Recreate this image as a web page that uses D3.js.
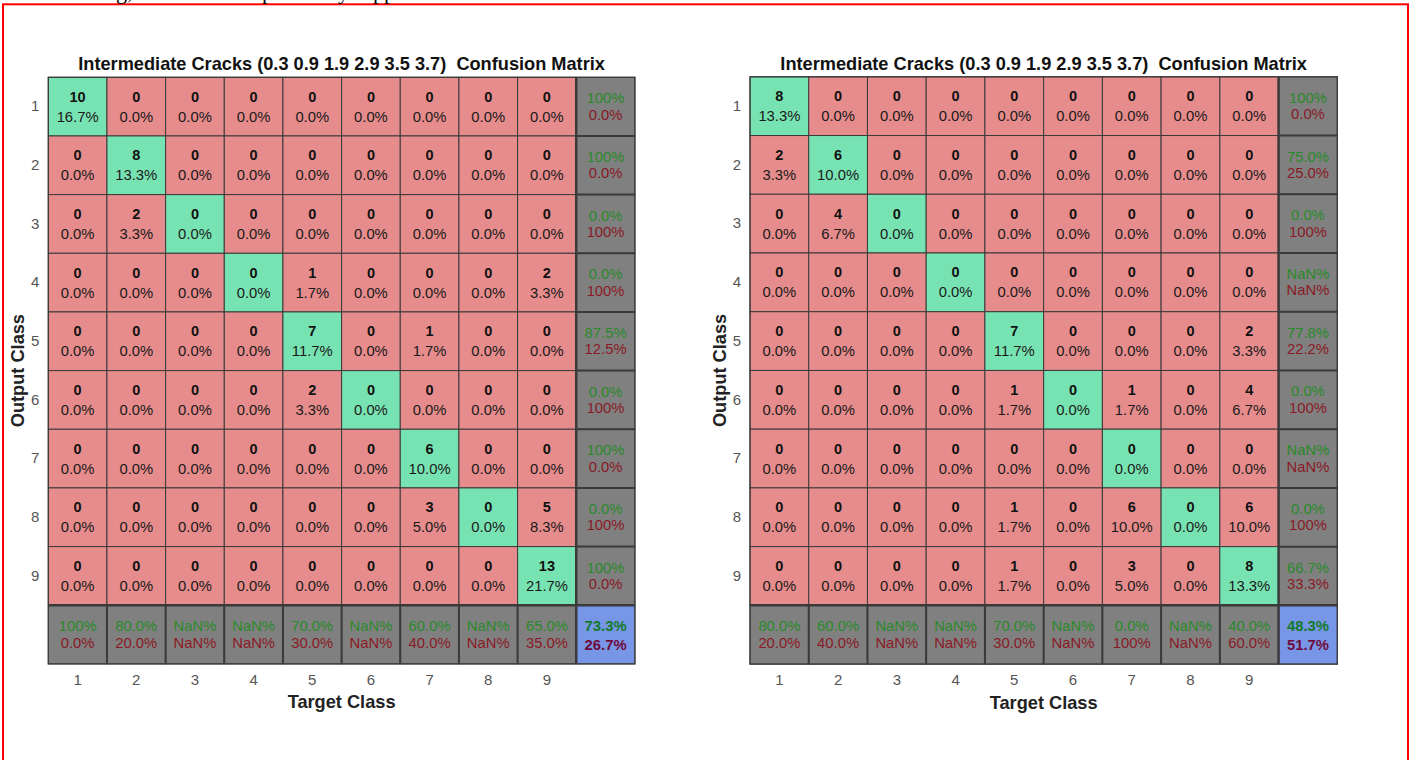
<!DOCTYPE html>
<html>
<head>
<meta charset="utf-8">
<script src="https://cdn.jsdelivr.net/npm/d3@7"></script>
<style>
  html, body { margin: 0; padding: 0; background: #fff; }
  svg { display: block; }
  text { font-family: "Liberation Sans", Arial, Helvetica, sans-serif; }
</style>
</head>
<body>
<svg id="chart" width="1413" height="760"></svg>
<script>
// ---------------- data ----------------
const classes = ["1", "2", "3", "4", "5", "6", "7", "8", "9"];
const titleText = "Intermediate Cracks (0.3 0.9 1.9 2.9 3.5 3.7)  Confusion Matrix";
const xAxisLabel = "Target Class";
const yAxisLabel = "Output Class";

// rows = output class, columns = target class
const leftCounts = [
  [10, 0, 0, 0, 0, 0, 0, 0, 0],
  [0, 8, 0, 0, 0, 0, 0, 0, 0],
  [0, 2, 0, 0, 0, 0, 0, 0, 0],
  [0, 0, 0, 0, 1, 0, 0, 0, 2],
  [0, 0, 0, 0, 7, 0, 1, 0, 0],
  [0, 0, 0, 0, 2, 0, 0, 0, 0],
  [0, 0, 0, 0, 0, 0, 6, 0, 0],
  [0, 0, 0, 0, 0, 0, 3, 0, 5],
  [0, 0, 0, 0, 0, 0, 0, 0, 13]
];
const rightCounts = [
  [8, 0, 0, 0, 0, 0, 0, 0, 0],
  [2, 6, 0, 0, 0, 0, 0, 0, 0],
  [0, 4, 0, 0, 0, 0, 0, 0, 0],
  [0, 0, 0, 0, 0, 0, 0, 0, 0],
  [0, 0, 0, 0, 7, 0, 0, 0, 2],
  [0, 0, 0, 0, 1, 0, 1, 0, 4],
  [0, 0, 0, 0, 0, 0, 0, 0, 0],
  [0, 0, 0, 0, 1, 0, 6, 0, 6],
  [0, 0, 0, 0, 1, 0, 3, 0, 8]
];
// cut-off descenders of a text line above the frame (as in the reference)
const topFragments = [
  { t: "g,", x: 116 }, { t: "p", x: 262 }, { t: "y", x: 338 }, { t: "pp", x: 373 }
];

// ---------------- style ----------------
const C = {
  green: "#78e3b2", red: "#e68c8c", gray: "#808080", blue: "#7896e6",
  grid: "#3a3a3a", okText: "#2a8a2a", badText: "#8a1a26",
  okBold: "#137a2c", badBold: "#6e0b3c"
};

const svg = d3.select("#chart");

// page frame and cut-off text
svg.append("rect").attr("x", 3).attr("y", 4.3).attr("width", 1405).attr("height", 800)
  .attr("fill", "none").attr("stroke", "#ff0000").attr("stroke-width", 2);
svg.selectAll("text.frag").data(topFragments).enter().append("text")
  .attr("class", "frag").attr("x", d => d.x).attr("y", -1)
  .style("font-family", "'Liberation Serif', 'Times New Roman', serif")
  .style("font-size", "22px").attr("fill", "#000").text(d => d.t);

function fmt(p) {
  if (!isFinite(p)) return "NaN%";
  if (Math.abs(p - 100) < 1e-9) return "100%";
  return p.toFixed(1) + "%";
}

function drawMatrix(counts, x0, y0, size) {
  const n = classes.length;
  const keys = [...classes, "all"];
  const x = d3.scaleBand().domain(keys).range([x0, x0 + size]);
  const y = d3.scaleBand().domain(keys).range([y0, y0 + size]);
  const bw = x.bandwidth(), bh = y.bandwidth();
  const total = d3.sum(counts.flat());
  const g = svg.append("g");

  const cells = [];
  for (let r = 0; r < n; r++) {
    const rowSum = d3.sum(counts[r]);
    for (let c = 0; c < n; c++) {
      cells.push({ kind: r === c ? "diag" : "off", r: classes[r], c: classes[c],
        count: counts[r][c], pct: 100 * counts[r][c] / total });
    }
    const ok = 100 * counts[r][r] / rowSum;
    cells.push({ kind: "sum", r: classes[r], c: "all", ok, bad: 100 - ok });
  }
  for (let c = 0; c < n; c++) {
    const colSum = d3.sum(counts, row => row[c]);
    const ok = 100 * counts[c][c] / colSum;
    cells.push({ kind: "sum", r: "all", c: classes[c], ok, bad: 100 - ok });
  }
  const diagSum = d3.sum(classes, (k, i) => counts[i][i]);
  const okAll = 100 * diagSum / total;
  cells.push({ kind: "total", r: "all", c: "all", ok: okAll, bad: 100 - okAll });

  const fill = { diag: C.green, off: C.red, sum: C.gray, total: C.blue };

  const cg = g.selectAll("g.cell").data(cells).enter().append("g")
    .attr("transform", d => `translate(${x(d.c)},${y(d.r)})`);
  cg.append("rect").attr("width", bw).attr("height", bh)
    .attr("fill", d => fill[d.kind]).attr("stroke", C.grid).attr("stroke-width", 1);

  const main = cg.filter(d => d.kind === "diag" || d.kind === "off");
  main.append("text").attr("x", bw / 2).attr("y", 24.5).attr("text-anchor", "middle")
    .style("font-size", "14.5px").style("font-weight", "bold").attr("fill", "#111")
    .text(d => d.count);
  main.append("text").attr("x", bw / 2).attr("y", 44.5).attr("text-anchor", "middle")
    .style("font-size", "14.8px").attr("fill", "#1a1a1a")
    .text(d => fmt(d.pct));

  const sums = cg.filter(d => d.kind === "sum");
  sums.append("text").attr("x", bw / 2).attr("y", 26).attr("text-anchor", "middle")
    .style("font-size", "14.8px").attr("fill", C.okText).text(d => fmt(d.ok));
  sums.append("text").attr("x", bw / 2).attr("y", 42.5).attr("text-anchor", "middle")
    .style("font-size", "14.8px").attr("fill", C.badText).text(d => fmt(d.bad));

  const tot = cg.filter(d => d.kind === "total");
  tot.append("text").attr("x", bw / 2).attr("y", 25.5).attr("text-anchor", "middle")
    .style("font-size", "14.8px").style("font-weight", "bold").attr("fill", C.okBold)
    .text(d => fmt(d.ok));
  tot.append("text").attr("x", bw / 2).attr("y", 45).attr("text-anchor", "middle")
    .style("font-size", "14.8px").style("font-weight", "bold").attr("fill", C.badBold)
    .text(d => fmt(d.bad));

  // thicker separators around the summary row / column
  const xs = x("all"), ys = y("all");
  g.append("line").attr("x1", xs).attr("x2", xs).attr("y1", y0).attr("y2", y0 + size)
    .attr("stroke", C.grid).attr("stroke-width", 2.5);
  g.append("line").attr("x1", x0).attr("x2", x0 + size).attr("y1", ys).attr("y2", ys)
    .attr("stroke", C.grid).attr("stroke-width", 2.5);
  for (let i = 1; i < n; i++) {
    g.append("line").attr("x1", xs).attr("x2", x0 + size).attr("y1", y(classes[i])).attr("y2", y(classes[i]))
      .attr("stroke", C.grid).attr("stroke-width", 2);
    g.append("line").attr("x1", x(classes[i])).attr("x2", x(classes[i])).attr("y1", ys).attr("y2", y0 + size)
      .attr("stroke", C.grid).attr("stroke-width", 2);
  }
  g.append("rect").attr("x", x0).attr("y", y0).attr("width", size).attr("height", size)
    .attr("fill", "none").attr("stroke", C.grid).attr("stroke-width", 1.2);

  // axes
  const xAxis = d3.axisBottom(x).tickValues(classes).tickSize(0).tickPadding(0);
  const ax = g.append("g").attr("transform", `translate(0,${y0 + size + 10})`).call(xAxis);
  ax.select(".domain").remove();
  ax.selectAll("text").style("font-size", "15px").attr("fill", "#555")
    .style("font-family", "'Liberation Sans', Arial, sans-serif");

  const yAxis = d3.axisLeft(y).tickValues(classes).tickSize(0).tickPadding(9);
  const ay = g.append("g").attr("transform", `translate(${x0},0)`).call(yAxis);
  ay.select(".domain").remove();
  ay.selectAll("text").style("font-size", "15px").attr("fill", "#555")
    .style("font-family", "'Liberation Sans', Arial, sans-serif");

  g.append("text").attr("x", x0 + size / 2).attr("y", y0 - 7).attr("text-anchor", "middle")
    .style("font-size", "18.2px").style("font-weight", "bold").attr("fill", "#111")
    .attr("xml:space", "preserve").text(titleText);
  g.append("text").attr("x", x0 + size / 2).attr("y", y0 + size + 44.5).attr("text-anchor", "middle")
    .style("font-size", "18.2px").style("font-weight", "bold").attr("fill", "#222")
    .text(xAxisLabel);
  g.append("text").attr("transform", `translate(${x0 - 24},${y0 + size / 2}) rotate(-90)`)
    .attr("text-anchor", "middle")
    .style("font-size", "18.2px").style("font-weight", "bold").attr("fill", "#222")
    .text(yAxisLabel);
}

drawMatrix(leftCounts, 48.3, 77.3, 586.6);
drawMatrix(rightCounts, 750, 76.8, 587.3);
</script>
</body>
</html>
